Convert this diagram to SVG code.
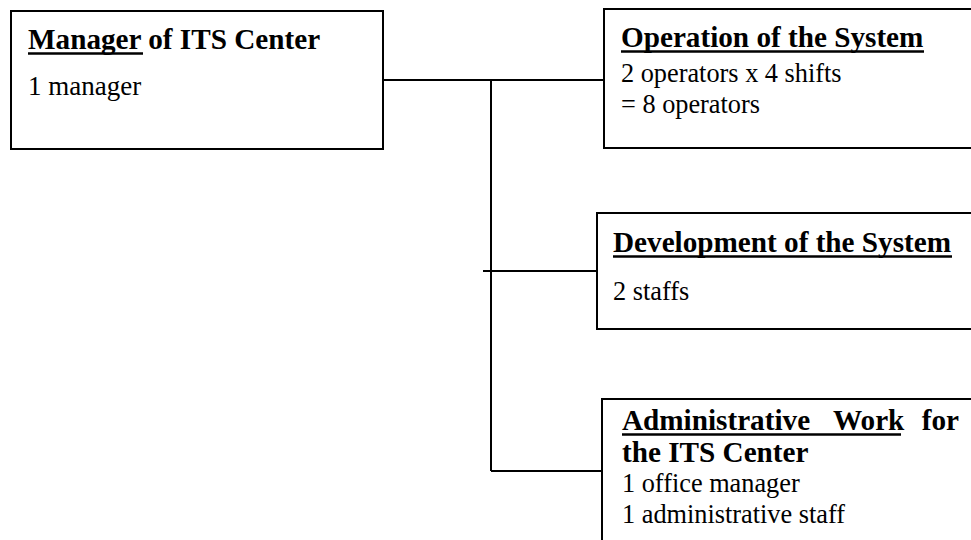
<svg xmlns="http://www.w3.org/2000/svg" width="971" height="540" viewBox="0 0 971 540">
  <style>
    .box { fill: #ffffff; stroke: #000000; stroke-width: 2; }
    .wire { fill: none; stroke: #000000; stroke-width: 2; }
    .title { font-family: 'Liberation Serif', 'DejaVu Serif', 'Noto Serif', serif; font-weight: 700; font-size: 29.2px; fill: #000000; }
    .body { font-family: 'Liberation Serif', 'DejaVu Serif', 'Noto Serif', serif; font-weight: 400; font-size: 26.3px; fill: #000000; }
    .ul { stroke: #000000; stroke-width: 2.6; }
  </style>
  <rect width="971" height="540" fill="#ffffff"/>

  <!-- connectors -->
  <g id="connectors">
    <line class="wire" x1="383" y1="80" x2="604" y2="80"/>
    <line class="wire" x1="491" y1="80" x2="491" y2="471"/>
    <line class="wire" x1="483" y1="271" x2="597" y2="271"/>
    <line class="wire" x1="491" y1="471" x2="602" y2="471"/>
  </g>

  <!-- manager -->
  <g id="manager">
    <rect class="box" x="11" y="11" width="372" height="138"/>
    <text class="title" x="28" y="49">Manager of ITS Center</text>
    <line class="ul" x1="28" y1="53.5" x2="143" y2="53.5"/>
    <text class="body" x="28" y="95" style="font-size:27px">1 manager</text>
  </g>

  <!-- operation -->
  <g id="operation">
    <rect class="box" x="604" y="9" width="380" height="139"/>
    <text class="title" x="621" y="47">Operation of the System</text>
    <line class="ul" x1="621" y1="51.5" x2="924" y2="51.5"/>
    <text class="body" x="621" y="82">2 operators x 4 shifts</text>
    <text class="body" x="621" y="113">= 8 operators</text>
  </g>

  <!-- development -->
  <g id="development">
    <rect class="box" x="597" y="213" width="390" height="116"/>
    <text class="title" x="613" y="252">Development of the System</text>
    <line class="ul" x1="613" y1="256.5" x2="952" y2="256.5"/>
    <text class="body" x="613" y="300">2 staffs</text>
  </g>

  <!-- administrative -->
  <g id="administrative">
    <rect class="box" x="602" y="399" width="390" height="160"/>
    <text class="title" y="430"><tspan x="622">Administrative</tspan><tspan x="833">Work</tspan><tspan x="959" text-anchor="end">for</tspan></text>
    <line class="ul" x1="622" y1="434.5" x2="901" y2="434.5"/>
    <text class="title" x="622" y="462">the ITS Center</text>
    <text class="body" x="622" y="492">1 office manager</text>
    <text class="body" x="622" y="523">1 administrative staff</text>
  </g>
</svg>
